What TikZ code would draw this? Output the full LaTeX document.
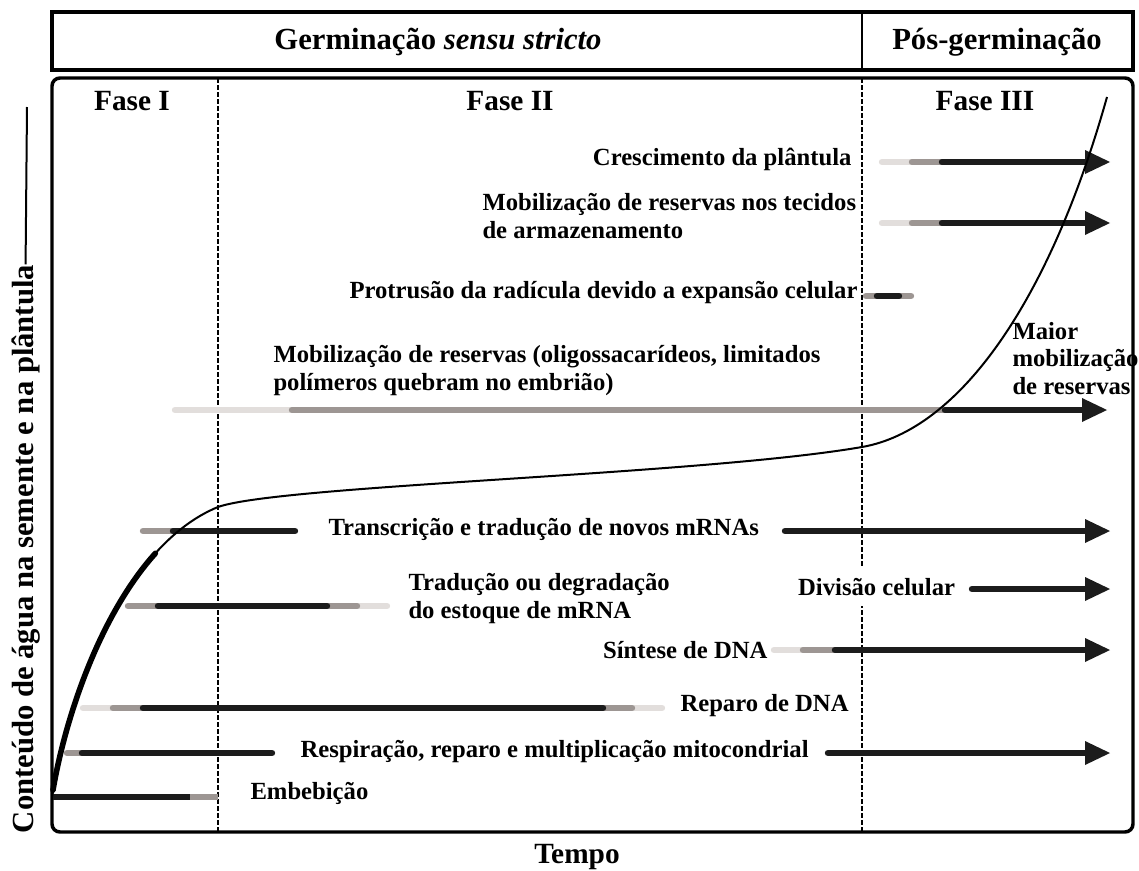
\documentclass[tikz,border=0pt]{standalone}
\usepackage{fontspec}
\setmainfont{Liberation Serif}

\definecolor{barblack}{RGB}{28,28,28}
\definecolor{bargray}{RGB}{157,150,147}
\definecolor{barlight}{RGB}{226,222,220}

\tikzset{
	bar/.style={line width=4.8pt, line cap=round},
	lightbar/.style={bar, draw=barlight},
	graybar/.style={bar, draw=bargray},
	blackbar/.style={bar, draw=barblack},
	stagetext/.style={font=\fontsize{18.5}{20.5}\selectfont\bfseries, inner sep=0pt, align=left},
	phasetext/.style={font=\fontsize{22}{26}\selectfont\bfseries, inner sep=0pt},
	headtext/.style={font=\fontsize{23}{27}\selectfont\bfseries, inner sep=0pt},
	phaseline/.style={dash pattern={on 3.75pt off 1.5pt}, line width=1.5pt}}
\tikzset{every picture/.style={line width=0.75pt}}

\begin{document}
\begin{tikzpicture}[x=0.75pt,y=0.75pt,yscale=-1,xscale=1]
	\useasboundingbox (0,0) rectangle (1139,871);

	%Shape: Rectangle (header)
	\draw [line width=2.6pt] (52,12) rectangle (1133,70) ;
	%Straight Lines
	\draw [line width=2pt] (862,12) -- (862,70) ;
	%Shape: Rounded Rectangle (plot area)
	\draw [line width=2.6pt, rounded corners=6pt] (52,78) rectangle (1133,832) ;
	%Straight Lines (phase limits)
	\draw [phaseline] (218,78) -- (218,832) ;
	\draw [phaseline] (862,78) -- (862,832) ;

	%Straight Lines: crescimento da plantula
	\draw [lightbar] (882,162) -- (912,162) ;
	\draw [graybar] (912,162) -- (942,162) ;
	\draw [blackbar] (942,162) -- (1090,162) ;
	\draw [shift={(1110,162)}, rotate = 180] [fill=barblack][line width=0.08] [draw opacity=0] (25,-12) -- (0,0) -- (25,12) -- cycle ;
	%Straight Lines: mobilizacao nos tecidos
	\draw [lightbar] (882,223) -- (912,223) ;
	\draw [graybar] (912,223) -- (942,223) ;
	\draw [blackbar] (942,223) -- (1090,223) ;
	\draw [shift={(1110,223)}, rotate = 180] [fill=barblack][line width=0.08] [draw opacity=0] (25,-12) -- (0,0) -- (25,12) -- cycle ;
	%Straight Lines: protrusao
	\draw [graybar] (866,296) -- (911,296) ;
	\draw [blackbar] (877,296) -- (899,296) ;
	%Straight Lines: mobilizacao de reservas
	\draw [lightbar] (175,410) -- (292,410) ;
	\draw [graybar] (292,410) -- (945,410) ;
	\draw [blackbar] (945,410) -- (1087,410) ;
	\draw [shift={(1107,410)}, rotate = 180] [fill=barblack][line width=0.08] [draw opacity=0] (25,-12) -- (0,0) -- (25,12) -- cycle ;
	%Straight Lines: transcricao
	\draw [graybar] (143,531) -- (173,531) ;
	\draw [blackbar] (173,531) -- (295,531) ;
	\draw [blackbar] (785,531) -- (1090,531) ;
	\draw [shift={(1110,531)}, rotate = 180] [fill=barblack][line width=0.08] [draw opacity=0] (25,-12) -- (0,0) -- (25,12) -- cycle ;
	%Straight Lines: divisao celular
	\draw [blackbar] (972,589) -- (1090,589) ;
	\draw [shift={(1110,589)}, rotate = 180] [fill=barblack][line width=0.08] [draw opacity=0] (25,-12) -- (0,0) -- (25,12) -- cycle ;
	%Straight Lines: traducao ou degradacao
	\draw [lightbar] (357,606) -- (387,606) ;
	\draw [graybar] (128,606) -- (357,606) ;
	\draw [blackbar] (158,606) -- (327,606) ;
	%Straight Lines: sintese de DNA
	\draw [lightbar] (774,650) -- (803,650) ;
	\draw [graybar] (803,650) -- (835,650) ;
	\draw [blackbar] (835,650) -- (1090,650) ;
	\draw [shift={(1110,650)}, rotate = 180] [fill=barblack][line width=0.08] [draw opacity=0] (25,-12) -- (0,0) -- (25,12) -- cycle ;
	%Straight Lines: reparo de DNA
	\draw [lightbar] (83,708) -- (662,708) ;
	\draw [graybar] (113,708) -- (632,708) ;
	\draw [blackbar] (143,708) -- (603,708) ;
	%Straight Lines: respiracao
	\draw [graybar] (67,753) -- (82,753) ;
	\draw [blackbar] (82,753) -- (272,753) ;
	\draw [blackbar] (828,753) -- (1090,753) ;
	\draw [shift={(1110,753)}, rotate = 180] [fill=barblack][line width=0.08] [draw opacity=0] (25,-12) -- (0,0) -- (25,12) -- cycle ;
	%Straight Lines: embebicao
	\draw [graybar, line cap=butt] (190,797) -- (218,797) ;
	\draw [blackbar, line cap=butt] (53,797) -- (190,797) ;

	%Curve Lines: water content
	\draw [line width=1.5pt]  (52,797) .. controls (70,690) and (125,545) .. (218,507) .. controls (280,485) and (700,475) .. (862,447) .. controls (960,430) and (1050,300) .. (1107,97) ;
	%Curve Lines: imbibition part
	\draw [line width=4.2pt, line cap=round]  (53,790) .. controls (65.5,716.75) and (99.8,615.1) .. (155.4,553.3) ;

	% Text Node
	\draw (438,49) node [headtext, anchor=base] (germ) {Germinação \textit{sensu stricto}};
	% Text Node
	\draw (997,49) node [headtext, anchor=base] (posgerm) {Pós-germinação};
	% Text Node
	\draw (132,110) node [phasetext, anchor=base] (faseI) {Fase I};
	% Text Node
	\draw (510,110) node [phasetext, anchor=base] (faseII) {Fase II};
	% Text Node
	\draw (985,110) node [phasetext, anchor=base] (faseIII) {Fase III};
	% Text Node
	\draw (852,165) node [stagetext, anchor=base east] (cresc) {Crescimento da plântula};
	% Text Node
	\draw (482,238) node [stagetext, anchor=base west] (mobtec) {Mobilização de reservas nos tecidos\\de armazenamento};
	% Text Node
	\draw (858,298) node [stagetext, anchor=base east] (protr) {Protrusão da radícula devido a expansão celular};
	% Text Node
	\draw (273,390) node [stagetext, anchor=base west] (mobres) {Mobilização de reservas (oligossacarídeos, limitados\\polímeros quebram no embrião)};
	% Text Node
	\draw (1012,394) node [stagetext, anchor=base west] (maior) {Maior\\mobilização\\de reservas};
	% Text Node
	\draw (328,535) node [stagetext, anchor=base west] (transc) {Transcrição e tradução de novos mRNAs};
	% Text Node
	\draw (408,618) node [stagetext, anchor=base west] (trad) {Tradução ou degradação\\do estoque de mRNA};
	% Text Node
	\draw (795,595) node [stagetext, anchor=base west, fill=white, inner xsep=2pt, inner ysep=8pt] (divisao) {Divisão celular};
	% Text Node
	\draw (768,658) node [stagetext, anchor=base east] (sintese) {Síntese de DNA};
	% Text Node
	\draw (680,711) node [stagetext, anchor=base west] (reparo) {Reparo de DNA};
	% Text Node
	\draw (300,757) node [stagetext, anchor=base west] (resp) {Respiração, reparo e multiplicação mitocondrial};
	% Text Node
	\draw (250,799) node [stagetext, anchor=base west] (embeb) {Embebição};
	% Text Node
	\draw (577,863) node [phasetext, anchor=base] (tempo) {Tempo};
	% Text Node
	\draw (33,549) node [headtext, anchor=base, rotate=90] (agua) {Conteúdo de água na semente e na plântula};
	\coordinate (aguatop) at (27,107);
	%Straight Lines
	\draw [line width=1.5pt] (agua.east) -- (aguatop) ;

\end{tikzpicture}
\end{document}
